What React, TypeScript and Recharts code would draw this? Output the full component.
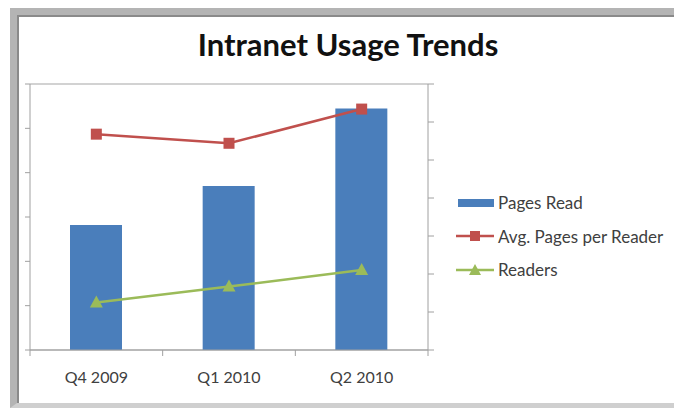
import React from 'react';
import { ComposedChart, Bar, Line, XAxis, YAxis, CartesianGrid, Legend } from 'recharts';

const categories = ['Q4 2009', 'Q1 2010', 'Q2 2010'];
const pagesRead = [2820, 3700, 5450];
const avgPagesPerReader = [2.84, 2.72, 3.17];
const readers = [1070, 1430, 1805];
const leftTicks = [0, 1000, 2000, 3000, 4000, 5000, 6000];
const rightTicks = [0, 0.5, 1, 1.5, 2, 2.5, 3, 3.5];

const data = categories.map((c, i) => ({
  name: c,
  pages: pagesRead[i],
  avg: avgPagesPerReader[i],
  readers: readers[i],
}));

const BLUE = '#4a7ebb';
const RED = '#c0504d';
const GREEN = '#9bbb59';
const AXIS = '#a0a0a0';
const FONT = 'Lato, "Open Sans", sans-serif';

const XTick = (props: any) => {
  const { x, y, payload, index } = props;
  const off = payload && typeof payload.offset === 'number' && payload.offset > 0 ? payload.offset : 66;
  return (
    <g>
      <line x1={x - off} y1={y} x2={x - off} y2={y + 6} stroke={AXIS} strokeWidth={1} />
      {index === categories.length - 1 && (
        <line x1={x + off} y1={y} x2={x + off} y2={y + 6} stroke={AXIS} strokeWidth={1} />
      )}
      <text x={x} y={y + 29} textAnchor="middle" dominantBaseline="middle" fill="#404040" fontSize={16} fontFamily={FONT}>
        {payload.value}
      </text>
    </g>
  );
};

const SquareDot = (props: any) => {
  const { cx, cy } = props;
  if (cx == null || cy == null) return null;
  return <rect x={cx - 5.5} y={cy - 5.5} width={11} height={11} fill={RED} />;
};

const TriDot = (props: any) => {
  const { cx, cy } = props;
  if (cx == null || cy == null) return null;
  return <polygon points={`${cx},${cy - 7} ${cx + 6.5},${cy + 5} ${cx - 6.5},${cy + 5}`} fill={GREEN} />;
};

const legendItems = [
  { label: 'Pages Read', color: BLUE, kind: 'bar' },
  { label: 'Avg. Pages per Reader', color: RED, kind: 'square' },
  { label: 'Readers', color: GREEN, kind: 'tri' },
];

const LegendContent = () => (
  <div style={{ fontFamily: FONT, fontSize: 17, color: '#404040' }}>
    {legendItems.map((it) => (
      <div key={it.label} style={{ display: 'flex', alignItems: 'center', height: 33.5 }}>
        <svg width={40} height={14} style={{ marginRight: 3, flex: 'none' }}>
          {it.kind === 'bar' && <rect x={3} y={3} width={36} height={8} fill={it.color} />}
          {it.kind !== 'bar' && <line x1={1} y1={7} x2={39} y2={7} stroke={it.color} strokeWidth={2.5} />}
          {it.kind === 'square' && <rect x={15} y={2} width={10} height={10} fill={it.color} />}
          {it.kind === 'tri' && <polygon points="20,1 26,12 14,12" fill={it.color} />}
        </svg>
        <span style={{ whiteSpace: 'nowrap' }}>{it.label}</span>
      </div>
    ))}
  </div>
);

export default function App() {
  return (
    <div style={{ position: 'absolute', left: 0, top: 0, width: 674, height: 408, background: '#fff', overflow: 'hidden' }}>
      <div
        style={{
          position: 'absolute',
          left: 10,
          top: 8,
          width: 720,
          height: 388,
          borderTop: '7px solid #b4b4b4',
          borderLeft: '7px solid #b4b4b4',
          borderBottom: '5px solid #cfcfcf',
          boxShadow: 'inset 2px 2px 0 #8a8a8a',
          boxSizing: 'content-box',
        }}
      />
      <div
        style={{
          position: 'absolute',
          left: 0,
          width: 696,
          top: 23,
          textAlign: 'center',
          fontFamily: FONT,
          fontWeight: 700,
          fontSize: 31,
          color: '#111',
          lineHeight: '42px',
        }}
      >
        Intranet Usage Trends
      </div>
      <div style={{ position: 'absolute', left: 0, top: 0 }}>
        <ComposedChart width={674} height={408} data={data} margin={{ top: 84, right: 21, bottom: 28, left: 20 }}>
          <CartesianGrid vertical={false} stroke="#a6a6a6" strokeWidth={1.2} />
          <XAxis dataKey="name" tick={<XTick />} tickLine={false} tickSize={0} tickMargin={0} height={30} stroke={AXIS} interval={0} />
          <YAxis yAxisId="left" domain={[0, 6000]} ticks={leftTicks} tickFormatter={() => ''} width={10} tickSize={5} stroke={AXIS} />
          <YAxis yAxisId="right" orientation="right" domain={[0, 3.5]} ticks={rightTicks} tickFormatter={() => ''} width={10} tickSize={6} stroke={AXIS} />
          <Bar yAxisId="left" dataKey="pages" name="Pages Read" fill={BLUE} barSize={52} isAnimationActive={false} />
          <Line yAxisId="right" dataKey="avg" name="Avg. Pages per Reader" stroke={RED} strokeWidth={2.5} dot={<SquareDot />} activeDot={false} isAnimationActive={false} />
          <Line yAxisId="left" dataKey="readers" name="Readers" stroke={GREEN} strokeWidth={2.5} dot={<TriDot />} activeDot={false} isAnimationActive={false} />
          <Legend
            layout="vertical"
            align="right"
            verticalAlign="middle"
            content={<LegendContent />}
            wrapperStyle={{ left: 455, top: 186, width: 215 }}
          />
        </ComposedChart>
      </div>
    </div>
  );
}
